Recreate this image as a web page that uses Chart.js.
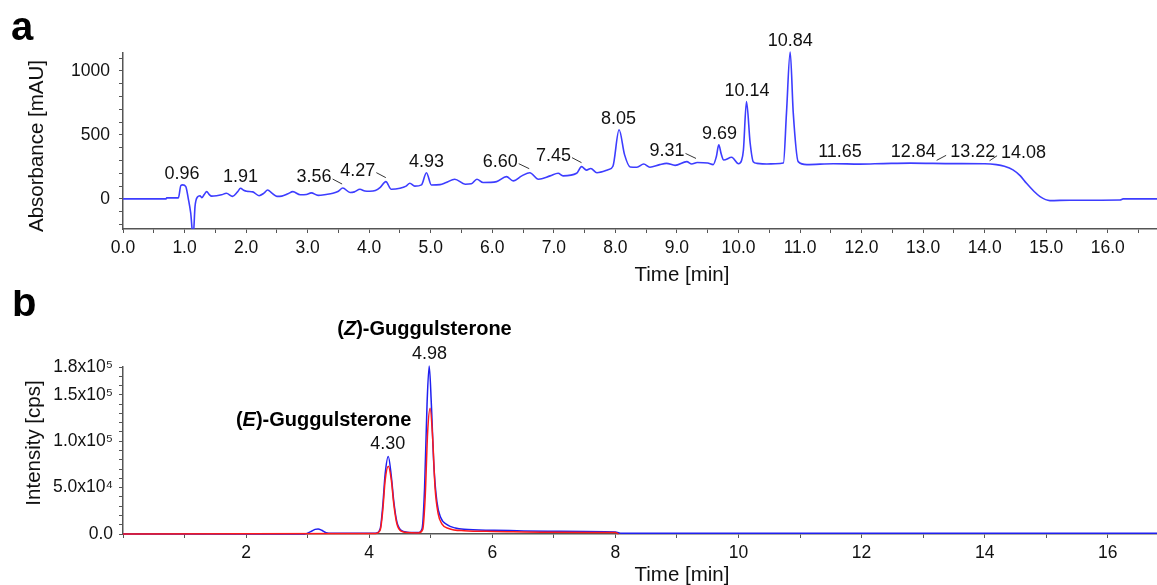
<!DOCTYPE html>
<html>
<head>
<meta charset="utf-8">
<script src="https://cdn.jsdelivr.net/npm/chart.js@4.4.0/dist/chart.umd.min.js"></script>
<style>
    html, body { margin: 0; padding: 0; background: #fff; }
    #wrap { position: relative; width: 1157px; height: 585px; overflow: hidden; }
    .panel { position: absolute; left: 0; width: 1157px; }
    #pa { top: 0; height: 290px; }
    #pb { top: 290px; height: 295px; }
</style>
</head>
<body>
<div id="wrap">
    <div class="panel" id="pa"><canvas id="chartA"></canvas></div>
    <div class="panel" id="pb"><canvas id="chartB"></canvas></div>
</div>
<script>
// Panel a: UV chromatogram (absorbance vs time)
const timeA = [0, 0.70, 0.71, 0.90, 0.94, 0.97, 1.02, 1.06, 1.10, 1.14, 1.17, 1.21, 1.25, 1.28, 1.32, 1.36, 1.40, 1.44, 1.52, 1.60,
    1.68, 1.78, 1.86, 1.91, 1.96, 2.01, 2.11, 2.21, 2.29, 2.35, 2.42, 2.50, 2.58, 2.68, 2.76, 2.88, 2.98, 3.06, 3.17, 3.30,
    3.41, 3.50, 3.57, 3.69, 3.76, 3.85, 3.93, 4.01, 4.10, 4.18, 4.27, 4.36, 4.50, 4.60, 4.66, 4.74, 4.85, 4.93, 5.01, 5.15,
    5.25, 5.39, 5.56, 5.66, 5.75, 5.85, 6.07, 6.23, 6.34, 6.48, 6.61, 6.75, 6.94, 7.07, 7.15, 7.37, 7.45, 7.53, 7.60, 7.70,
    7.89, 7.96, 8.06, 8.15, 8.24, 8.35, 8.46, 8.56, 8.72, 8.83, 8.97, 9.16, 9.24, 9.33, 9.50, 9.59, 9.64, 9.68, 9.72, 9.76,
    9.89, 10.00, 10.05, 10.08, 10.13, 10.19, 10.24, 10.30, 10.46, 10.60, 10.73, 10.78, 10.84, 10.89, 10.97, 11.11, 11.54, 11.97, 12.35, 12.79,
    13.50, 14.00, 14.19, 14.32, 14.46, 14.58, 14.68, 14.80, 14.90, 15.06, 15.38, 16.20, 16.25, 16.80];
const absA = [0, 0, 8, 8, 105, 110, 96, 5, -110, -300, -60, 15, 25, 10, 35, 57, 35, 22, 25, 32,
    44, 20, 55, 83, 68, 60, 55, 25, 45, 70, 45, 20, 22, 40, 57, 32, 35, 47, 28, 35,
    44, 60, 85, 50, 55, 75, 62, 60, 65, 90, 135, 75, 83, 100, 122, 100, 110, 205, 109, 112,
    128, 154, 115, 118, 154, 128, 135, 174, 141, 180, 205, 154, 180, 200, 180, 200, 252, 225, 238, 205,
    230, 255, 540, 344, 250, 248, 273, 248, 268, 278, 262, 291, 273, 285, 280, 268, 330, 422, 350, 304,
    325, 275, 300, 380, 760, 435, 291, 278, 273, 275, 280, 672, 1148, 672, 291, 268, 275, 272, 276, 280,
    276, 275, 268, 255, 227, 180, 122, 60, 18, -13, -10, -8, 0, 0];
const peakTimesA = [0.96, 1.91, 3.56, 4.27, 4.93, 6.60, 7.45, 8.05, 9.31, 9.69, 10.14, 10.84, 11.65, 12.84, 13.22, 14.08];
const peakHeightsA = [110, 83, 85, 135, 205, 205, 252, 540, 285, 422, 760, 1148, 280, 282, 278, 275];
const xLabelsA = [0, 1, 2, 3, 4, 5, 6, 7, 8, 9, 10, 11, 12, 13, 14, 15, 16];
const yLabelsA = [0, 500, 1000];

// Panel b: extracted ion chromatograms (intensity vs time)
const timeBlue = [0, 2.95, 3.05, 3.12, 3.17, 3.23, 3.30, 3.40, 4.10, 4.18, 4.22, 4.26, 4.31, 4.36, 4.40, 4.45, 4.52, 4.62, 4.80, 4.86,
    4.90, 4.94, 4.975, 5.01, 5.05, 5.10, 5.16, 5.27, 5.40, 5.54, 6.03, 6.90, 8.00, 8.10, 16.80];
const intBlue = [0, 0, 2500, 5000, 5500, 4000, 1500, 800, 800, 6000, 30000, 65000, 83500, 62000, 35000, 13000, 4000, 2000, 1500, 6000,
    50000, 140000, 181000, 140000, 75000, 35000, 18000, 9800, 6500, 5100, 4000, 3000, 2200, 800, 800];
const timeRed = [0, 4.10, 4.18, 4.22, 4.26, 4.31, 4.36, 4.40, 4.45, 4.52, 4.62, 4.80, 4.87, 4.91, 4.95, 4.99, 5.03, 5.07, 5.12, 5.18,
    5.29, 5.54, 6.03, 6.90, 8.00, 8.05];
const intRed = [0, 600, 4500, 25000, 58000, 73000, 58000, 32000, 11000, 3000, 1500, 1200, 5000, 40000, 110000, 135500, 105000, 50000, 22000, 11000,
    6000, 3500, 2800, 2000, 1500, 0];
const peakTimesB = [4.30, 4.98];
const peakHeightsB = [83500, 181000];
const compoundLetters = ['E', 'Z'];
const xLabelsB = [2, 4, 6, 8, 10, 12, 14, 16];
const yLabelsB = [0, 50000, 100000, 150000, 180000];
const yTickTextB = ['0.0', '5.0x10\u2074', '1.0x10\u2075', '1.5x10\u2075', '1.8x10\u2075'];

const FONT = "'Liberation Sans', Arial, Helvetica, sans-serif";
const AXIS_COLOR = '#555';
const TEXT_COLOR = '#111';

function toPoints(xs, ys) {
    return xs.map((x, i) => ({ x: x, y: ys[i] }));
}

function range(from, to, step) {
    const out = [];
    for (let v = from; v <= to + 1e-9; v += step) out.push(Math.round(v * 1000) / 1000);
    return out;
}

// axis with minor tick marks; only the listed values get a label
function makeAxis(min, max, tickValues, labelFor, boxSize, horizontal, pad) {
    return {
        type: 'linear',
        min: min,
        max: max,
        afterBuildTicks: scale => {
            scale.ticks = tickValues.map(v => ({ value: v }));
        },
        afterFit: scale => {
            if (horizontal) scale.height = boxSize;
            else scale.width = boxSize;
        },
        border: { display: true, color: AXIS_COLOR, width: 1.5 },
        grid: {
            drawOnChartArea: false,
            drawTicks: true,
            tickLength: 4,
            tickColor: AXIS_COLOR,
            tickWidth: 1
        },
        ticks: {
            autoSkip: false,
            maxRotation: 0,
            padding: pad,
            color: TEXT_COLOR,
            font: { family: FONT, size: 17.5 },
            callback: value => labelFor(value)
        }
    };
}

// leader lines offset for crowded labels (px)
const labelShiftA = { '3.56': -28, '4.27': -28, '6.60': -29, '7.45': -28, '9.31': -29, '13.22': 36, '14.08': 34 };

const panelAText = {
    id: 'panelAText',
    afterDraw(chart) {
        const ctx = chart.ctx;
        const xs = chart.scales.x, ys = chart.scales.y;
        ctx.save();
        ctx.fillStyle = '#000';
        ctx.font = 'bold 40px ' + FONT;
        ctx.textAlign = 'left';
        ctx.textBaseline = 'alphabetic';
        ctx.fillText('a', 11, 40);

        ctx.fillStyle = TEXT_COLOR;
        ctx.font = '20.5px ' + FONT;
        ctx.textAlign = 'center';
        ctx.textBaseline = 'middle';
        ctx.fillText('Time [min]', 682, 275);
        ctx.save();
        ctx.translate(37, 146);
        ctx.rotate(-Math.PI / 2);
        ctx.fillText('Absorbance [mAU]', 0, 0);
        ctx.restore();

        ctx.font = '18px ' + FONT;
        ctx.strokeStyle = '#333';
        ctx.lineWidth = 1;
        peakTimesA.forEach((t, i) => {
            const text = t.toFixed(2);
            const px = xs.getPixelForValue(t);
            const py = ys.getPixelForValue(peakHeightsA[i]);
            const shift = labelShiftA[text] || 0;
            const cx = px + shift, cy = py - 11;
            ctx.fillText(text, cx, cy);
            if (shift) {
                const half = ctx.measureText(text).width / 2;
                ctx.beginPath();
                if (shift < 0) {
                    ctx.moveTo(cx + half + 1, cy + 2);
                    ctx.lineTo(px, py - 4);
                } else {
                    ctx.moveTo(px, py - 3);
                    ctx.lineTo(cx - half - 4, cy + 3);
                }
                ctx.stroke();
            }
        });
        ctx.restore();
    }
};

function drawCompound(ctx, letter, cx, cy) {
    const parts = [['(', 'bold'], [letter, 'italic bold'], [')-Guggulsterone', 'bold']];
    let total = 0;
    parts.forEach(p => {
        ctx.font = p[1] + ' 20px ' + FONT;
        total += ctx.measureText(p[0]).width;
    });
    let x = cx - total / 2;
    ctx.textAlign = 'left';
    parts.forEach(p => {
        ctx.font = p[1] + ' 20px ' + FONT;
        ctx.fillText(p[0], x, cy);
        x += ctx.measureText(p[0]).width;
    });
}

const compoundShift = { E: [-64, -36], Z: [-5, -37] };

const panelBText = {
    id: 'panelBText',
    afterDraw(chart) {
        const ctx = chart.ctx;
        const xs = chart.scales.x, ys = chart.scales.y;
        ctx.save();
        ctx.fillStyle = '#000';
        ctx.font = 'bold 40px ' + FONT;
        ctx.textAlign = 'left';
        ctx.textBaseline = 'alphabetic';
        ctx.fillText('b', 12, 26);

        ctx.fillStyle = TEXT_COLOR;
        ctx.font = '20.5px ' + FONT;
        ctx.textAlign = 'center';
        ctx.textBaseline = 'middle';
        ctx.fillText('Time [min]', 682, 285);
        ctx.save();
        ctx.translate(34, 153);
        ctx.rotate(-Math.PI / 2);
        ctx.fillText('Intensity [cps]', 0, 0);
        ctx.restore();

        peakTimesB.forEach((t, i) => {
            const px = xs.getPixelForValue(t);
            const py = ys.getPixelForValue(peakHeightsB[i]);
            ctx.font = '18px ' + FONT;
            ctx.textAlign = 'center';
            ctx.fillStyle = TEXT_COLOR;
            ctx.fillText(t.toFixed(2), px, py - 12);
            const s = compoundShift[compoundLetters[i]];
            ctx.fillStyle = '#000';
            drawCompound(ctx, compoundLetters[i], px + s[0], py + s[1]);
        });
        ctx.restore();
    }
};

const baseOptions = (padTop, xAxis, yAxis) => ({
    responsive: true,
    maintainAspectRatio: false,
    animation: false,
    events: [],
    layout: { padding: { top: padTop, right: 0, bottom: 0, left: 0 } },
    plugins: { legend: { display: false }, tooltip: { enabled: false } },
    scales: { x: xAxis, y: yAxis }
});

document.addEventListener('DOMContentLoaded', () => {
    new Chart(document.getElementById('chartA'), {
        type: 'line',
        data: {
            datasets: [{
                data: toPoints(timeA, absA),
                borderColor: '#3d3dff',
                borderWidth: 1.6,
                pointRadius: 0,
                cubicInterpolationMode: 'monotone',
                clip: { left: 0, top: 6, right: 0, bottom: 0 }
            }]
        },
        options: baseOptions(53,
            makeAxis(0, 16.8, range(0, 16.5, 0.5),
                v => xLabelsA.includes(v) ? v.toFixed(1) : '', 61, true, 5),
            makeAxis(-235, 1140, range(-200, 1100, 100),
                v => yLabelsA.includes(v) ? String(v) : '', 123, false, 9)),
        plugins: [panelAText]
    });

    new Chart(document.getElementById('chartB'), {
        type: 'line',
        data: {
            datasets: [{
                data: toPoints(timeRed, intRed),
                borderColor: '#ff1a1a',
                borderWidth: 1.5,
                pointRadius: 0,
                cubicInterpolationMode: 'monotone',
                clip: { left: 0, top: 6, right: 0, bottom: 2 }
            }, {
                data: toPoints(timeBlue, intBlue),
                borderColor: '#2020f0',
                borderWidth: 1.5,
                pointRadius: 0,
                cubicInterpolationMode: 'monotone',
                clip: { left: 0, top: 6, right: 0, bottom: 2 }
            }]
        },
        options: baseOptions(77,
            makeAxis(0, 16.8, range(0, 16, 1),
                v => xLabelsB.includes(v) ? String(v) : '', 51, true, 5),
            makeAxis(0, 180000, range(0, 180000, 10000),
                v => {
                    const k = yLabelsB.indexOf(v);
                    return k >= 0 ? yTickTextB[k] : '';
                }, 123, false, 6)),
        plugins: [panelBText]
    });
});
</script>
</body>
</html>
